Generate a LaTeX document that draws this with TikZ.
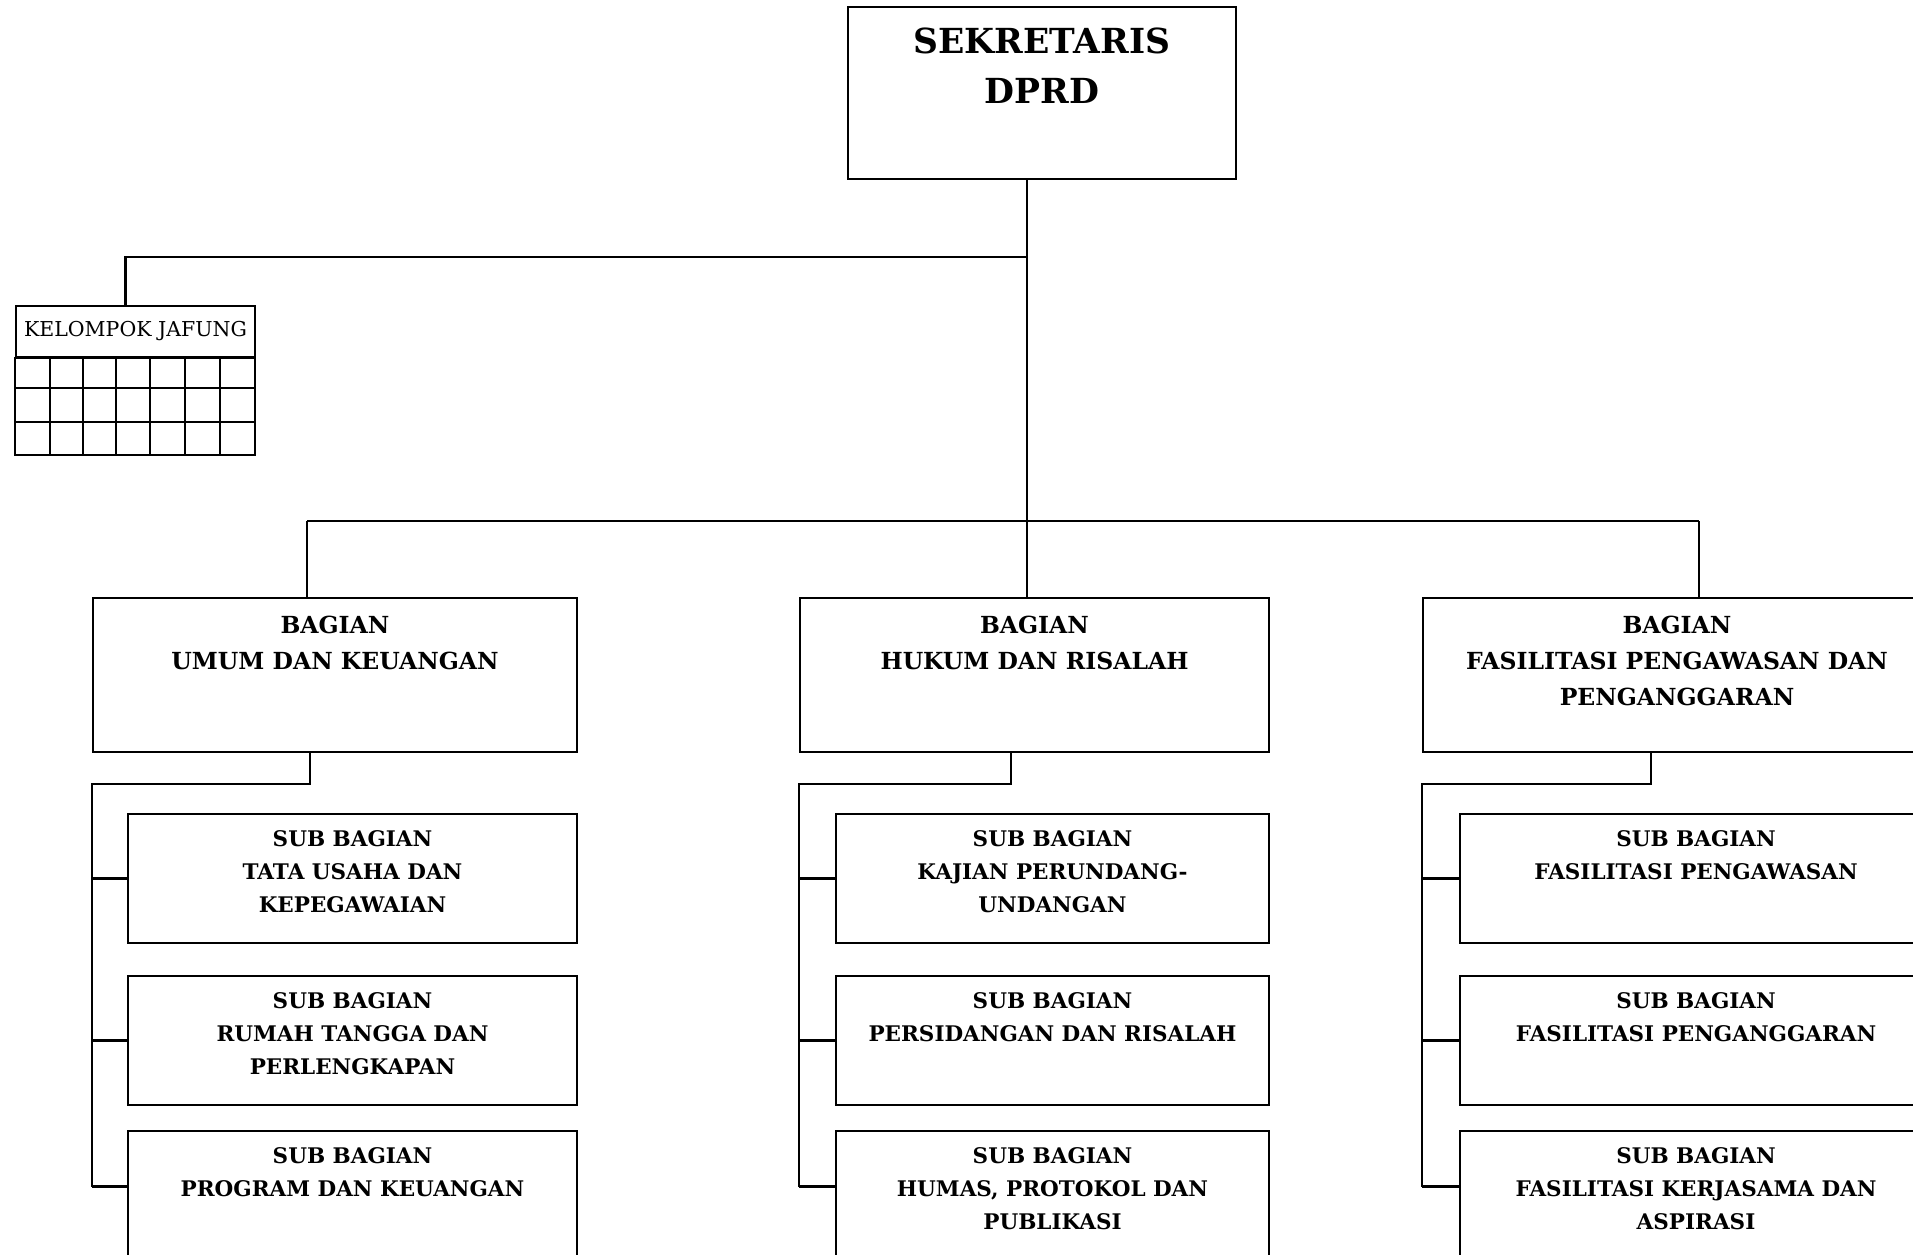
\documentclass[tikz,border=0pt]{standalone}
\usepackage{fontspec}
\setmainfont{DejaVu Serif}
\usepackage{tikz}

\begin{document}
\begin{tikzpicture}[x=1pt, y=-1pt, line width=2.2pt,
    unit/.style={draw, inner sep=0pt, minimum height=154pt},
    subunit/.style={draw, inner sep=0pt, minimum height=129pt},
    bagtext/.style={anchor=north, align=center, inner sep=0pt, yshift=-18pt, font=\fontsize{23.5}{36}\selectfont\bfseries},
    subtext/.style={anchor=north, align=center, inner sep=0pt, yshift=-17pt, font=\fontsize{21.5}{33}\selectfont\bfseries}]
    \clip (0,0) rectangle (1913,1254);

    % pimpinan
    \node[draw, inner sep=0pt, minimum width=388pt, minimum height=172pt,
        label={[anchor=north, align=center, inner sep=0pt, yshift=-21pt, font=\fontsize{34.5}{50}\selectfont\bfseries]north:{SEKRETARIS\\DPRD}}] (sekre) at (1042,93) {};

    % kelompok jabatan fungsional
    \node[draw, inner sep=0pt, minimum width=239pt, minimum height=51pt, font=\fontsize{20.5}{24}\selectfont] (jafung) at (135.5,331.5) {KELOMPOK JAFUNG};
    \draw (jafung.south west) rectangle (255,455);
    \foreach \y in {388,422} \draw (16,\y) -- (255,\y);
    \foreach \x in {50,83,116,150,185,220} \draw (\x,357) -- (\x,455);

    % bagian
    \node[unit, minimum width=484pt, label={[bagtext]north:{BAGIAN\\UMUM DAN KEUANGAN}}] (umum) at (335,675) {};
    \node[unit, minimum width=469pt, label={[bagtext]north:{BAGIAN\\HUKUM DAN RISALAH}}] (hukum) at (1034.5,675) {};
    \node[unit, minimum width=508pt, label={[bagtext]north:{BAGIAN\\FASILITASI PENGAWASAN DAN\\PENGANGGARAN}}] (fasil) at (1677,675) {};

    % sub bagian
    \node[subunit, minimum width=449pt, label={[subtext]north:{SUB BAGIAN\\TATA USAHA DAN\\KEPEGAWAIAN}}] (umumsub1) at (352.5,878.5) {};
    \node[subunit, minimum width=449pt, label={[subtext]north:{SUB BAGIAN\\RUMAH TANGGA DAN\\PERLENGKAPAN}}] (umumsub2) at (352.5,1040.5) {};
    \node[subunit, minimum width=449pt, label={[subtext]north:{SUB BAGIAN\\PROGRAM DAN KEUANGAN}}] (umumsub3) at (352.5,1195.5) {};

    \node[subunit, minimum width=433pt, label={[subtext]north:{SUB BAGIAN\\KAJIAN PERUNDANG-\\UNDANGAN}}] (hukumsub1) at (1052.5,878.5) {};
    \node[subunit, minimum width=433pt, label={[subtext]north:{SUB BAGIAN\\PERSIDANGAN DAN RISALAH}}] (hukumsub2) at (1052.5,1040.5) {};
    \node[subunit, minimum width=433pt, label={[subtext]north:{SUB BAGIAN\\HUMAS, PROTOKOL DAN\\PUBLIKASI}}] (hukumsub3) at (1052.5,1195.5) {};

    \node[subunit, minimum width=472pt, label={[subtext]north:{SUB BAGIAN\\FASILITASI PENGAWASAN}}] (fasilsub1) at (1696,878.5) {};
    \node[subunit, minimum width=472pt, label={[subtext]north:{SUB BAGIAN\\FASILITASI PENGANGGARAN}}] (fasilsub2) at (1696,1040.5) {};
    \node[subunit, minimum width=472pt, label={[subtext]north:{SUB BAGIAN\\FASILITASI KERJASAMA DAN\\ASPIRASI}}] (fasilsub3) at (1696,1195.5) {};

    % garis komando
    \coordinate (jafjoint) at (1027,257);
    \coordinate (bagjoint) at (1027,521);
    \coordinate (busL) at (307,521);
    \coordinate (busR) at (1699,521);
    \draw (sekre.south -| bagjoint) -- (bagjoint);
    \draw (jafjoint) -| ([xshift=-10pt]jafung.north);
    \draw (busL) -- (busR);
    \draw (busL) -- (busL |- umum.north);
    \draw (bagjoint) -- (bagjoint |- hukum.north);
    \draw (busR) -- (busR |- fasil.north);

    \coordinate (umumtap) at (310,784);
    \coordinate (hukumtap) at (1011,784);
    \coordinate (fasiltap) at (1651,784);
    \foreach \bag in {umum,hukum,fasil} {
        \draw (\bag.south -| \bag tap) -- (\bag tap) -- (\bag tap -| \bag.west) -- ([yshift=9pt]\bag sub3.west -| \bag.west);
        \draw (\bag sub1.west -| \bag.west) -- (\bag sub1.west);
        \draw (\bag sub2.west -| \bag.west) -- (\bag sub2.west);
        \draw ([yshift=9pt]\bag sub3.west -| \bag.west) -- ([yshift=9pt]\bag sub3.west);
    }
\end{tikzpicture}
\end{document}
